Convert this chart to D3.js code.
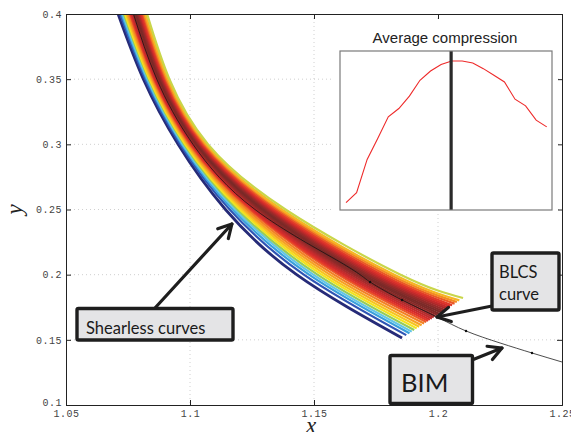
<!DOCTYPE html>
<html>
<head>
<meta charset="utf-8">
<script src="https://cdn.jsdelivr.net/npm/d3@7"></script>
<style>
  body { margin: 0; background: #fff; }
  svg { display: block; }
  .tick text { font-family: "Liberation Mono", monospace; font-size: 10px; fill: #444; letter-spacing: 0.5px; }
  .note { font-family: Lato, "Open Sans", sans-serif; fill: #1a1a1a; }
</style>
</head>
<body>
<div id="chart"></div>
<script>
// ***************************** DATA *****************************************
// tick labels
var xTicks = [1.05, 1.1, 1.15, 1.2, 1.25];
var yTicks = [0.1, 0.15, 0.2, 0.25, 0.3, 0.35, 0.4];

// shearless curves: x read at each of these y levels, then the end point
var levelY = [0.4, 0.35, 0.3, 0.25, 0.2];
var shearlessX = [
  [1.0710, 1.0812, 1.0952, 1.1143, 1.1430],
  [1.0718, 1.0819, 1.0960, 1.1160, 1.1459],
  [1.0724, 1.0825, 1.0967, 1.1172, 1.1480],
  [1.0729, 1.0829, 1.0971, 1.1182, 1.1497],
  [1.0733, 1.0833, 1.0976, 1.1191, 1.1514],
  [1.0738, 1.0837, 1.0981, 1.1201, 1.1531],
  [1.0743, 1.0841, 1.0986, 1.1211, 1.1547],
  [1.0747, 1.0846, 1.0991, 1.1220, 1.1564],
  [1.0752, 1.0850, 1.0996, 1.1230, 1.1581],
  [1.0757, 1.0854, 1.1000, 1.1240, 1.1598],
  [1.0760, 1.0857, 1.1004, 1.1247, 1.1610],
  [1.0764, 1.0860, 1.1008, 1.1254, 1.1623],
  [1.0767, 1.0863, 1.1011, 1.1262, 1.1635],
  [1.0771, 1.0867, 1.1015, 1.1269, 1.1648],
  [1.0774, 1.0870, 1.1019, 1.1276, 1.1661],
  [1.0778, 1.0873, 1.1022, 1.1283, 1.1673],
  [1.0781, 1.0876, 1.1026, 1.1291, 1.1686],
  [1.0785, 1.0879, 1.1029, 1.1298, 1.1698],
  [1.0788, 1.0882, 1.1033, 1.1305, 1.1711],
  [1.0792, 1.0885, 1.1037, 1.1312, 1.1723],
  [1.0795, 1.0889, 1.1040, 1.1320, 1.1736],
  [1.0799, 1.0892, 1.1044, 1.1327, 1.1748],
  [1.0802, 1.0895, 1.1048, 1.1334, 1.1761],
  [1.0806, 1.0898, 1.1051, 1.1341, 1.1774],
  [1.0811, 1.0902, 1.1056, 1.1351, 1.1790],
  [1.0815, 1.0906, 1.1061, 1.1361, 1.1807],
  [1.0820, 1.0911, 1.1066, 1.1370, 1.1824],
  [1.0827, 1.0917, 1.1073, 1.1385, 1.1849]
];
var shearlessEnd = [
  [1.1855, 0.1514], [1.1872, 0.1536], [1.1885, 0.1551], [1.1894, 0.1563],
  [1.1904, 0.1575], [1.1914, 0.1588], [1.1924, 0.1600], [1.1934, 0.1612],
  [1.1944, 0.1625], [1.1953, 0.1637], [1.1961, 0.1646], [1.1968, 0.1655],
  [1.1976, 0.1664], [1.1983, 0.1674], [1.1990, 0.1683], [1.1998, 0.1692],
  [1.2005, 0.1701], [1.2012, 0.1711], [1.2020, 0.1720], [1.2027, 0.1729],
  [1.2035, 0.1738], [1.2042, 0.1747], [1.2049, 0.1757], [1.2057, 0.1766],
  [1.2067, 0.1778], [1.2076, 0.1790], [1.2086, 0.1803], [1.2101, 0.1821]
];
var shearlessColors = [
  "#262b78", "#2e55b5", "#3aa0dc", "#63c5e6", "#96cb5c", "#f2e41e", "#f7c520",
  "#f6a223", "#f28225", "#ec5c27", "#e2392b", "#d42c2b", "#c22b2c", "#ad2a2b",
  "#9a2a2a", "#8a2a28", "#7e2927", "#7a2a28", "#842b29", "#942b2a", "#a82a2a",
  "#be2a2b", "#d22d2b", "#e0382a", "#ea5827", "#f38a24", "#f6b524", "#c9d64a"
];

// BIM curve (black) and its markers
var bimX = [1.0772, 1.0866, 1.1012, 1.1262, 1.1605, 1.1726, 1.1855, 1.1996, 1.2113, 1.2250, 1.2379, 1.2500];
var bimY = [0.4000, 0.3500, 0.3000, 0.2500, 0.2097, 0.1944, 0.1806, 0.1675, 0.1568, 0.1476, 0.1399, 0.1330];
var bimDots = [5, 6, 8, 10];
var blcsPoint = 7;

// inset: average compression per curve
var compressionIndex = [1, 2, 3, 4, 5, 6, 7, 8, 9, 10, 11, 12, 13, 14, 15, 16, 17, 18, 19, 20];
var compression = [0.046, 0.109, 0.318, 0.450, 0.586, 0.638, 0.716, 0.816, 0.874, 0.915,
                   0.937, 0.937, 0.925, 0.889, 0.847, 0.805, 0.697, 0.655, 0.565, 0.523];
var blcsIndex = 10.95;

// ************************** CANVAS SET UP ***********************************
var margin = {left: 66, right: 9, top: 14, bottom: 27};
var svgWidth = 571, svgHeight = 432;
var width = svgWidth - margin.left - margin.right,   // 496
    height = svgHeight - margin.top - margin.bottom; // 391

var svg = d3.select("#chart").append("svg")
  .attr("width", svgWidth)
  .attr("height", svgHeight);

var chart = svg.append("g")
  .attr("transform", `translate(${margin.left}, ${margin.top})`);

var x = d3.scaleLinear().domain([1.05, 1.25]).range([0, width]);
var y = d3.scaleLinear().domain([0.1, 0.4]).range([height, 0]);

svg.append("defs").append("clipPath").attr("id", "plotClip")
  .append("rect").attr("width", width).attr("height", height);

// grid
chart.append("g").selectAll("line")
  .data(xTicks.slice(1, -1)).enter().append("line")
  .attr("x1", d => x(d)).attr("x2", d => x(d))
  .attr("y1", 0).attr("y2", height)
  .attr("stroke", "#c4c4c4").attr("stroke-width", 0.8).attr("stroke-dasharray", "1,3");
chart.append("g").selectAll("line")
  .data(yTicks.slice(1, -1)).enter().append("line")
  .attr("y1", d => y(d)).attr("y2", d => y(d))
  .attr("x1", 0).attr("x2", width)
  .attr("stroke", "#c4c4c4").attr("stroke-width", 0.8).attr("stroke-dasharray", "1,3");

// ************************** CURVES ******************************************
var line = d3.line().x(d => x(d[0])).y(d => y(d[1])).curve(d3.curveNatural);
var plot = chart.append("g").attr("clip-path", "url(#plotClip)");

var curves = shearlessX.map(function(row, i) {
  return levelY.map((ly, j) => [row[j], ly]).concat([shearlessEnd[i]]);
});

plot.selectAll(".shearless")
  .data(curves).enter().append("path")
  .attr("class", "shearless")
  .attr("d", line)
  .attr("fill", "none")
  .attr("stroke", (d, i) => shearlessColors[i])
  .attr("stroke-width", (d, i) => i === 0 ? 2.8 : 2.2)
  .attr("stroke-linecap", "butt");

var bim = bimX.map((v, i) => [v, bimY[i]]);
plot.append("path")
  .attr("d", line(bim))
  .attr("fill", "none")
  .attr("stroke", "#111")
  .attr("stroke-width", 0.75);

plot.selectAll(".bimdot")
  .data(bimDots).enter().append("circle")
  .attr("cx", d => x(bimX[d])).attr("cy", d => y(bimY[d]))
  .attr("r", 1.2).attr("fill", "#111");

// ************************** AXES ********************************************
var axisStyle = function(g) {
  g.select(".domain").attr("stroke", "#222");
  g.selectAll(".tick line").attr("stroke", "#222");
};
chart.append("g")
  .attr("transform", `translate(0, ${height})`)
  .call(d3.axisBottom(x).tickValues(xTicks).tickFormat(d => String(d)).tickSize(-5).tickPadding(5))
  .call(axisStyle);
chart.append("g")
  .call(d3.axisLeft(y).tickValues(yTicks).tickFormat(d => String(d)).tickSize(-5).tickPadding(4))
  .call(axisStyle)
  .selectAll(".tick text")
  .attr("dy", d => d === 0.1 ? "0.05em" : "0.32em");
chart.append("g")
  .call(d3.axisTop(x).tickValues(xTicks).tickFormat("").tickSize(-5))
  .call(axisStyle);
chart.append("g")
  .attr("transform", `translate(${width}, 0)`)
  .call(d3.axisRight(y).tickValues(yTicks).tickFormat("").tickSize(-5))
  .call(axisStyle);
chart.selectAll(".domain").attr("fill", "none");

// axis labels
svg.append("text")
  .attr("x", 311).attr("y", 433)
  .attr("text-anchor", "middle")
  .style("font-family", "'Liberation Serif', serif").style("font-style", "italic")
  .style("font-size", "23px").attr("fill", "#222")
  .text("x");
svg.append("text")
  .attr("transform", `translate(22, ${margin.top + height / 2}) rotate(-90)`)
  .attr("text-anchor", "middle")
  .style("font-family", "'Liberation Serif', serif").style("font-style", "italic")
  .style("font-size", "23px").attr("fill", "#222")
  .text("y");

// ************************** INSET *******************************************
var inset = {x0: 340, x1: 552, y0: 51, y1: 210};
svg.append("rect")
  .attr("x", inset.x0 - 6).attr("y", 22)
  .attr("width", inset.x1 - inset.x0 + 12).attr("height", inset.y1 - 22 + 4)
  .attr("fill", "#fff");
svg.append("text")
  .attr("x", 445).attr("y", 42.5)
  .attr("text-anchor", "middle")
  .style("font-family", "'Liberation Sans', Arial, sans-serif").style("font-size", "15px")
  .attr("fill", "#222")
  .text("Average compression");

var ix = d3.scaleLinear().domain([0.43, 20.5]).range([inset.x0, inset.x1]);
var iy = d3.scaleLinear().domain([0, 1]).range([inset.y1, inset.y0]);

svg.append("path")
  .datum(compression)
  .attr("d", d3.line().x((d, i) => ix(compressionIndex[i])).y(d => iy(d)))
  .attr("fill", "none").attr("stroke", "#ee2a2a").attr("stroke-width", 1.1);

svg.append("line")
  .attr("x1", ix(blcsIndex)).attr("x2", ix(blcsIndex))
  .attr("y1", inset.y0).attr("y2", inset.y1)
  .attr("stroke", "#2a2a2a").attr("stroke-width", 3.2);

svg.append("rect")
  .attr("x", inset.x0).attr("y", inset.y0)
  .attr("width", inset.x1 - inset.x0).attr("height", inset.y1 - inset.y0)
  .attr("fill", "none").attr("stroke", "#7a7a7a").attr("stroke-width", 1.2);

// ************************** ANNOTATIONS *************************************
function arrow(x1, y1, x2, y2) {
  var a = Math.atan2(y2 - y1, x2 - x1), L = 15, s = 0.5;
  var g = svg.append("g")
    .attr("stroke", "#1e1e1e").attr("stroke-width", 3.2)
    .attr("stroke-linecap", "round").attr("stroke-linejoin", "round").attr("fill", "none");
  g.append("line").attr("x1", x1).attr("y1", y1).attr("x2", x2).attr("y2", y2);
  g.append("path").attr("d",
    `M${x2 - L * Math.cos(a - s)},${y2 - L * Math.sin(a - s)}L${x2},${y2}` +
    `L${x2 - L * Math.cos(a + s)},${y2 - L * Math.sin(a + s)}`);
}
function box(bx, by, bw, bh) {
  svg.append("rect")
    .attr("x", bx).attr("y", by).attr("width", bw).attr("height", bh)
    .attr("rx", 1.5)
    .attr("fill", "#e4e4e6").attr("stroke", "#1e1e1e").attr("stroke-width", 3.4);
}

// Shearless curves
arrow(155, 308, margin.left + x(1.1169), margin.top + y(0.2389));
box(77, 308.5, 156, 31.5);
svg.append("text").attr("class", "note")
  .attr("x", 86).attr("y", 334).style("font-size", "16.5px")
  .text("Shearless curves");

// BLCS curve
arrow(492, 306, margin.left + x(bimX[blcsPoint]), margin.top + y(bimY[blcsPoint]));
box(492, 253, 67, 57);
svg.append("text").attr("class", "note")
  .attr("x", 499).attr("y", 278).style("font-size", "16.5px").text("BLCS");
svg.append("text").attr("class", "note")
  .attr("x", 499).attr("y", 300).style("font-size", "16.5px").text("curve");

// BIM
arrow(472, 360, margin.left + x(1.2258), margin.top + y(0.1437));
box(390, 355.5, 82.5, 48);
svg.append("text").attr("class", "note")
  .attr("x", 401).attr("y", 392).style("font-size", "25.5px").text("BIM");
</script>
</body>
</html>
